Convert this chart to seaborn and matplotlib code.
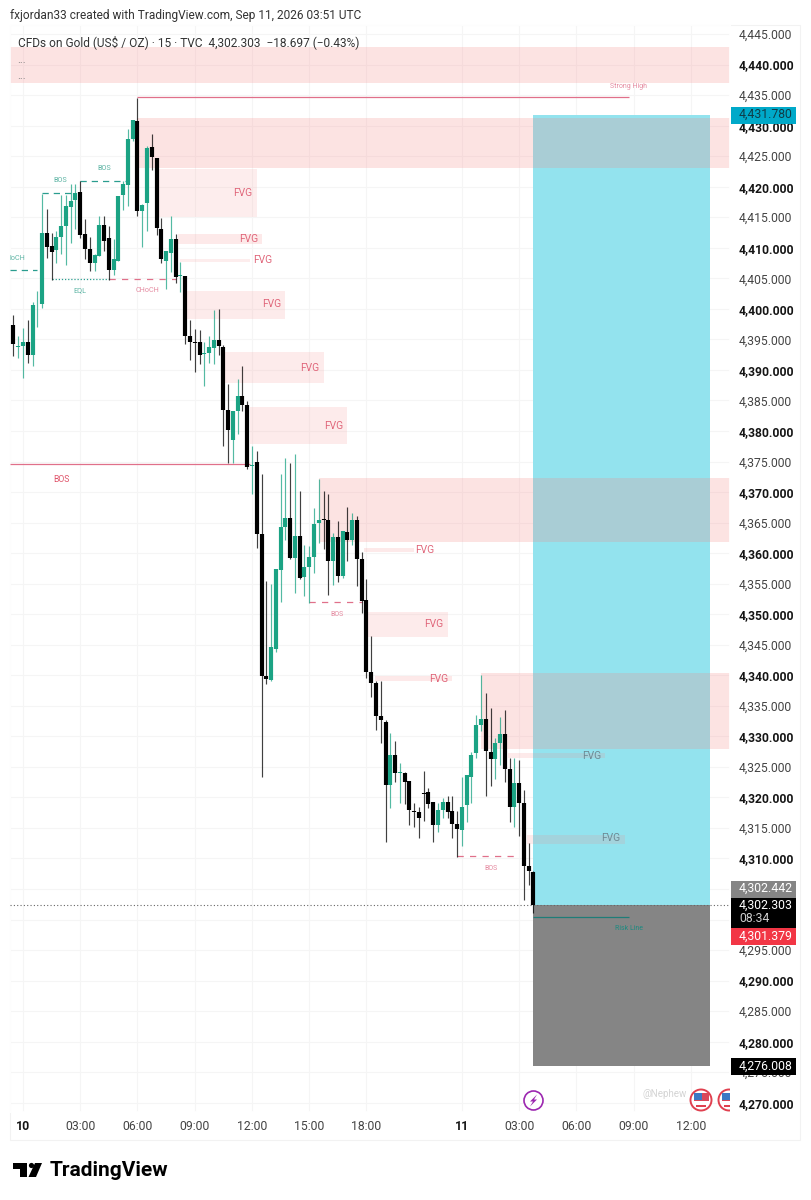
import numpy as np
import pandas as pd
import matplotlib.pyplot as plt
import seaborn as sns
from matplotlib.patches import Rectangle, Circle, Polygon
from matplotlib.transforms import Affine2D

# candles, 15 min bars, bar 0 is the "10" session open
first_bar = -2
opens = [4397.3,4393.8,4393.9,4394.6,4392.5,4400.6,4400.8,4412.4,4410.3,4409.7,
         4411.8,4413.5,4416.6,4417.8,4419.1,4412.3,4409.8,4407.5,4408.6,4413.7,
         4411.6,4406.3,4407.9,4418.7,4420.2,4427.8,4430.8,4416.0,4417.4,4426.5,
         4424.7,4413.1,4407.9,4409.2,4411.5,4405.4,4405.4,4395.6,4394.6,4394.6,
         4392.6,4392.7,4393.6,4394.9,4393.8,4383.4,4378.6,4383.3,4385.7,4384.2,
         4374.2,4374.9,4363.2,4339.9,4339.2,4344.3,4357.3,4364.2,4365.7,4359.2,
         4362.8,4356.1,4357.7,4359.4,4365.0,4365.6,4365.5,4358.7,4362.6,4356.2,
         4363.5,4362.2,4365.5,4359.1,4352.3,4340.5,4338.7,4333.3,4332.4,4322.1,
         4326.9,4324.0,4324.0,4322.7,4317.8,4317.6,4320.7,4320.9,4319.3,4315.4,
         4318.0,4319.2,4317.8,4315.7,4314.6,4318.7,4323.4,4327.2,4331.8,4332.9,
         4327.5,4326.3,4328.9,4330.4,4324.7,4318.5,4322.3,4319.0,4308.7,4307.8]
closes = [4394.2,4393.9,4394.6,4392.5,4400.7,4400.7,4412.5,4410.2,4409.3,4411.8,
          4413.5,4416.8,4417.6,4419.0,4412.1,4409.8,4407.5,4408.8,4413.8,4411.1,
          4406.3,4408.1,4418.5,4420.4,4427.8,4430.9,4416.1,4417.0,4426.3,4424.9,
          4413.2,4408.1,4409.4,4411.5,4405.2,4405.6,4395.6,4394.6,4394.4,4392.5,
          4392.8,4393.8,4394.9,4393.9,4383.4,4380.2,4383.3,4385.7,4384.2,4374.1,
          4374.5,4363.2,4339.8,4339.4,4344.6,4357.4,4364.2,4365.7,4359.2,4362.8,
          4356.0,4357.7,4359.4,4364.8,4365.5,4365.4,4358.7,4362.6,4356.2,4363.6,
          4362.2,4365.4,4359.1,4352.2,4340.5,4338.7,4333.4,4332.6,4322.1,4326.9,
          4324.0,4324.2,4322.6,4318.0,4317.6,4316.7,4320.5,4318.9,4315.5,4318.0,
          4319.3,4317.6,4315.7,4314.8,4318.5,4323.6,4327.0,4331.8,4332.8,4327.6,
          4326.3,4328.9,4330.4,4324.7,4318.4,4322.3,4319.0,4308.7,4307.9,4302.3]
highs = [4399.0,4395.6,4396.8,4398.1,4401.2,4403.0,4418.8,4416.3,4412.5,4412.8,
         4418.7,4418.7,4420.4,4420.4,4420.9,4414.7,4411.7,4409.0,4415.2,4415.2,
         4413.6,4411.4,4418.5,4421.0,4429.5,4431.0,4434.5,4417.2,4426.7,4428.6,
         4424.7,4414.9,4409.5,4415.2,4412.3,4407.6,4405.4,4398.1,4396.7,4396.5,
         4394.5,4395.6,4399.8,4399.9,4394.0,4387.7,4383.3,4388.5,4390.7,4384.9,
         4377.5,4376.7,4372.9,4355.5,4354.9,4357.4,4373.0,4375.5,4374.8,4376.2,
         4370.1,4361.4,4361.2,4367.4,4372.1,4370.1,4369.7,4363.3,4365.3,4363.7,
         4367.5,4366.5,4366.1,4360.2,4355.7,4346.5,4339.0,4339.0,4332.7,4330.5,
         4329.2,4325.6,4324.1,4322.7,4319.1,4318.5,4324.4,4321.6,4319.3,4319.1,
         4319.9,4320.2,4320.2,4317.7,4323.4,4323.6,4327.5,4333.5,4340.1,4337.1,
         4334.6,4329.8,4333.1,4334.3,4326.5,4326.4,4326.1,4321.2,4312.5,4307.9]
lows = [4392.3,4392.0,4388.7,4391.2,4390.6,4397.0,4400.2,4408.4,4404.8,4407.5,
        4409.0,4407.2,4410.7,4413.0,4411.6,4408.1,4406.2,4406.2,4408.6,4409.5,
        4404.7,4405.6,4407.9,4416.2,4416.9,4427.5,4415.2,4410.2,4412.8,4422.7,
        4412.1,4407.5,4403.2,4406.0,4404.3,4402.8,4394.2,4391.6,4389.6,4391.0,
        4387.4,4391.2,4391.0,4392.5,4377.5,4374.8,4374.8,4379.5,4383.3,4373.7,
        4369.6,4360.9,4323.4,4338.5,4339.0,4343.8,4352.0,4362.1,4359.0,4353.5,
        4355.7,4353.0,4351.9,4356.8,4361.7,4360.6,4353.2,4354.8,4355.3,4356.0,
        4358.7,4361.4,4354.6,4350.2,4339.6,4336.5,4331.1,4328.9,4312.7,4318.2,
        4322.5,4319.1,4318.9,4315.5,4315.1,4313.4,4316.1,4318.2,4312.7,4314.4,
        4316.6,4316.6,4313.4,4310.2,4312.0,4316.0,4319.0,4326.4,4330.8,4320.2,
        4321.8,4323.0,4325.3,4322.6,4316.0,4315.2,4313.6,4303.2,4305.7,4301.0]

# pink zones: bar from, bar to, price low, price high, strength
zone_left = [-2.725,24,28,32.5,33,33.5,42.4,47.6,62,71.5,72.3,73.8,96,101.7,105.7]
zone_right = [148.2,148.2,49,50,47.6,55,63,68,148.2,82,89,90,148.2,122,126.2]
zone_low = [4437.0,4423.0,4415.0,4410.6,4407.6,4398.3,4387.9,4377.9,4361.8,4360.2,4346.2,4339.1,4327.9,4326.4,4312.4]
zone_high = [4442.9,4431.2,4422.9,4412.2,4408.1,4402.9,4393.0,4383.9,4372.3,4360.9,4350.4,4339.9,4340.4,4327.2,4313.8]
zone_alpha = [.23,.23,.14,.18,.14,.16,.16,.16,.23,.18,.16,.18,.23,.17,.17]

# FVG labels sit at image positions
fvg_x = [243,249,263,272,310,334,425,434,439,592,611]
fvg_y = [193,239,260,304,368,426,550,624,679,756,838]
fvg_col = ['#e0667a']*9 + ['#6d8a94','#6d8a94']

# position tool
entry_price = 4302.303
target_price = 4431.78
stop_price = 4276.008
tool_start = 106.9
tool_end = 144

y_ticks = list(range(4270, 4450, 5))
hidden_ticks = [4300, 4305]  # under the price badges
x_ticks = [0,12,24,36,48,60,72,92,104,116,128,140]
x_labels = ['10','03:00','06:00','09:00','12:00','15:00','18:00','11','03:00','06:00','09:00','12:00']

sns.set_theme(style="whitegrid", rc={
    "grid.color": "#f5f5f5", "grid.linewidth": 0.8,
    "lines.solid_capstyle": "butt", "axes.edgecolor": "#ffffff"})
plt.rcParams['font.family'] = ['Roboto', 'DejaVu Sans']

bars = np.arange(first_bar, first_bar + len(opens))
direction = ['up' if c >= o else 'down' for o, c in zip(opens, closes)]
wicks = pd.DataFrame({'bar': np.tile(bars, 2), 'price': lows + highs, 'dir': direction * 2})
bodies = pd.DataFrame({'bar': np.tile(bars, 2), 'price': opens + closes, 'dir': direction * 2})

fig = plt.figure(figsize=(8.11, 12), dpi=100)
ax = fig.add_axes([10/811, 1 - 1112/1200, 720/811, 1087/1200])
px = Affine2D().scale(1, -1).translate(0, 1200)  # image pixels to display

ax.set_xlim(-2.725, 148.2)
ax.set_ylim(4268.48, 4446.48)

# risk/reward boxes
ax.add_patch(Rectangle((tool_start, entry_price), tool_end - tool_start, target_price - entry_price,
                       color='#93e3ee', lw=0, zorder=1))
ax.add_patch(Rectangle((tool_start, stop_price), tool_end - tool_start, entry_price - stop_price,
                       color='#858585', lw=0, zorder=1))

for l, r, lo, hi, a in zip(zone_left, zone_right, zone_low, zone_high, zone_alpha):
    ax.add_patch(Rectangle((l, lo), r - l, hi - lo, color='#f68685', alpha=a, lw=0, zorder=2))

red = '#e0708a'
teal = '#2a9d8f'
ax.plot([24, 127], [4434.7, 4434.7], color=red, lw=0.9, zorder=3)
ax.plot([-2.725, 47.5], [4374.55, 4374.55], color=red, lw=0.9, zorder=3)
ax.plot([18, 32], [4404.9, 4404.9], color=red, lw=0.9, ls=(0, (5, 5)), zorder=3)
ax.plot([60, 71], [4352.0, 4352.0], color=red, lw=0.9, ls=(0, (5, 5)), zorder=3)
ax.plot([91, 103.5], [4310.45, 4310.45], color=red, lw=0.9, ls=(0, (5, 5)), zorder=3)
ax.plot([6, 18], [4404.9, 4404.9], color=teal, lw=0.9, ls=(0, (1, 1.5)), zorder=3)
ax.plot([4, 11], [4418.9, 4418.9], color=teal, lw=0.9, ls=(0, (5, 4)), zorder=3)
ax.plot([12, 22], [4421.0, 4421.0], color=teal, lw=0.9, ls=(0, (5, 4)), zorder=3)
ax.plot([-2.725, 3], [4406.35, 4406.35], color=teal, lw=0.9, ls=(0, (5, 4)), zorder=3)
ax.plot([107, 127], [4300.45, 4300.45], color='#1f7d78', lw=0.9, zorder=3)
ax.axhline(entry_price, color='#666666', lw=0.8, ls=(0, (1, 2)), zorder=3)

palette = {'up': '#1ba384', 'down': '#000000'}
sns.lineplot(data=wicks, x='bar', y='price', hue='dir', units='bar', estimator=None, sort=False,
             palette=palette, lw=0.85, alpha=0.75, legend=False, zorder=4, ax=ax)
sns.lineplot(data=bodies, x='bar', y='price', hue='dir', units='bar', estimator=None, sort=False,
             palette=palette, lw=3.0, legend=False, zorder=5, ax=ax)

ax.set_xlabel('')
ax.set_ylabel('')
ax.set_xticks(x_ticks)
ax.set_xticklabels(x_labels)
ax.set_yticks(y_ticks)
ax.set_yticklabels(['' if t in hidden_ticks else f'{t:,.3f}' for t in y_ticks])
ax.yaxis.tick_right()
ax.tick_params(axis='y', length=0, pad=6.5, labelsize=8.7, labelcolor='#444444')
ax.tick_params(axis='x', length=0, pad=5.5, labelsize=8.8, labelcolor='#444444')
for lab, t in zip(ax.get_yticklabels(), y_ticks):
    lab.set_va('center_baseline')
    if t % 10 == 0:
        lab.set_fontweight('bold')
        lab.set_color('#151515')
for lab, name in zip(ax.get_xticklabels(), x_labels):
    if name in ('10', '11'):
        lab.set_fontweight('bold')
        lab.set_color('#151515')
ax.grid(True)
ax.set_axisbelow(True)


def note(x, y, s, color, size, **kw):
    kw.setdefault('ha', 'center')
    return ax.text(x, y, s, color=color, fontsize=size, va='center', transform=px,
                   clip_on=False, zorder=9, **kw)


for x, y, c in zip(fvg_x, fvg_y, fvg_col):
    note(x, y, 'FVG', c, 7.4)
note(629, 86, 'Strong High', '#e58aa0', 5)
note(61, 479, 'BOS', '#e0566c', 6.2)
note(147, 291, 'CHoCH', '#e58aa0', 5.2)
note(80, 291, 'EQL', '#5fb5a5', 5.2)
note(60, 181, 'BOS', '#5fb5a5', 5.2)
note(104, 168, 'BOS', '#5fb5a5', 5.2)
note(17, 258, 'loCH', '#5fb5a5', 5.2)
note(337, 614, 'BOS', '#e58aa0', 5)
note(491, 868, 'BOS', '#e58aa0', 5)
note(629, 928, 'Risk Line', '#1f8a80', 5)
note(22, 60, '...', '#777777', 8)
note(22, 76, '...', '#777777', 8)
note(665, 1094, '@Nephew', '#d4d4d4', 7)

# header text
note(10, 15, 'fxjordan33 created with TradingView.com, Sep 11, 2026 03:51 UTC', '#333333', 8.55, ha='left')
note(18, 42, 'CFDs on Gold (US$ / OZ) · 15 · TVC  4,302.303  −18.697 (−0.43%)', '#333333', 8.55, ha='left')


def badge(y0, y1, color):
    ax.add_patch(Rectangle((731, y0), 65, y1 - y0, color=color, lw=0, transform=px,
                           clip_on=False, zorder=8))


badge(106.5, 124, '#00a9c9')
note(739, 114.5, f'{target_price:,.3f}', '#103c48', 8.8, ha='left')
badge(880.5, 897.5, '#858585')
note(739, 888.5, '4,302.442', '#ffffff', 8.8, ha='left')
badge(897.5, 928, '#000000')
note(739, 905, '4,302.303', '#ffffff', 8.8, ha='left')
note(739, 919, '08:34', '#cfcfcf', 8.8, ha='left')
badge(928, 945, '#f23645')
note(739, 936, '4,301.379', '#ffffff', 8.8, ha='left')
badge(1057.5, 1075, '#000000')
note(739, 1066, f'{stop_price:,.3f}', '#ffffff', 8.8, ha='left')

# event icons
ax.add_patch(Circle((533.5, 1100.5), 9.5, fc='white', ec='#9c27b0', lw=1.2, transform=px, clip_on=False, zorder=8))
ax.add_patch(Polygon([(537, 1094.5), (530, 1101.5), (533, 1101.5), (530, 1106.5), (537, 1099.5), (534, 1099.5)],
                     closed=True, color='#9c27b0', lw=0, transform=px, clip_on=False, zorder=9))
for cx in (701, 729):
    clip = Rectangle((680, 1085), 50 if cx > 710 else 36, 30, transform=px)
    parts = [Circle((cx, 1100), 10.5, fc='white', ec='#e0404f', lw=1.4, transform=px, zorder=8),
             Rectangle((cx - 7.5, 1093), 15, 8, color='#d9485a', lw=0, transform=px, zorder=8),
             Rectangle((cx - 7.5, 1093), 8, 7, color='#3b78c4', lw=0, transform=px, zorder=8),
             Rectangle((cx - 5, 1105), 10, 2, color='#e0404f', lw=0, transform=px, zorder=8)]
    for p in parts:
        ax.add_patch(p)
        p.set_clip_path(clip)
        p.set_clip_on(True)

# chart frame
ax.add_patch(Rectangle((10, 25), 790, 1114.5, fc='none', ec='#f2f2f2', lw=0.8, transform=px, clip_on=False, zorder=0))

# TradingView logo
ax.add_patch(Polygon([(13, 1163), (27, 1163), (27, 1177), (19.5, 1177), (19.5, 1168.5), (13, 1168.5)],
                     closed=True, color='#000000', lw=0, transform=px, clip_on=False))
ax.add_patch(Circle((31.5, 1165.5), 2.6, color='#000000', lw=0, transform=px, clip_on=False))
ax.add_patch(Polygon([(28.5, 1177), (35, 1163), (42, 1163), (36, 1177)],
                     closed=True, color='#000000', lw=0, transform=px, clip_on=False))
note(50, 1170, 'TradingView', '#000000', 15, ha='left', fontweight='bold')

fig.savefig('out.png', dpi=100)
